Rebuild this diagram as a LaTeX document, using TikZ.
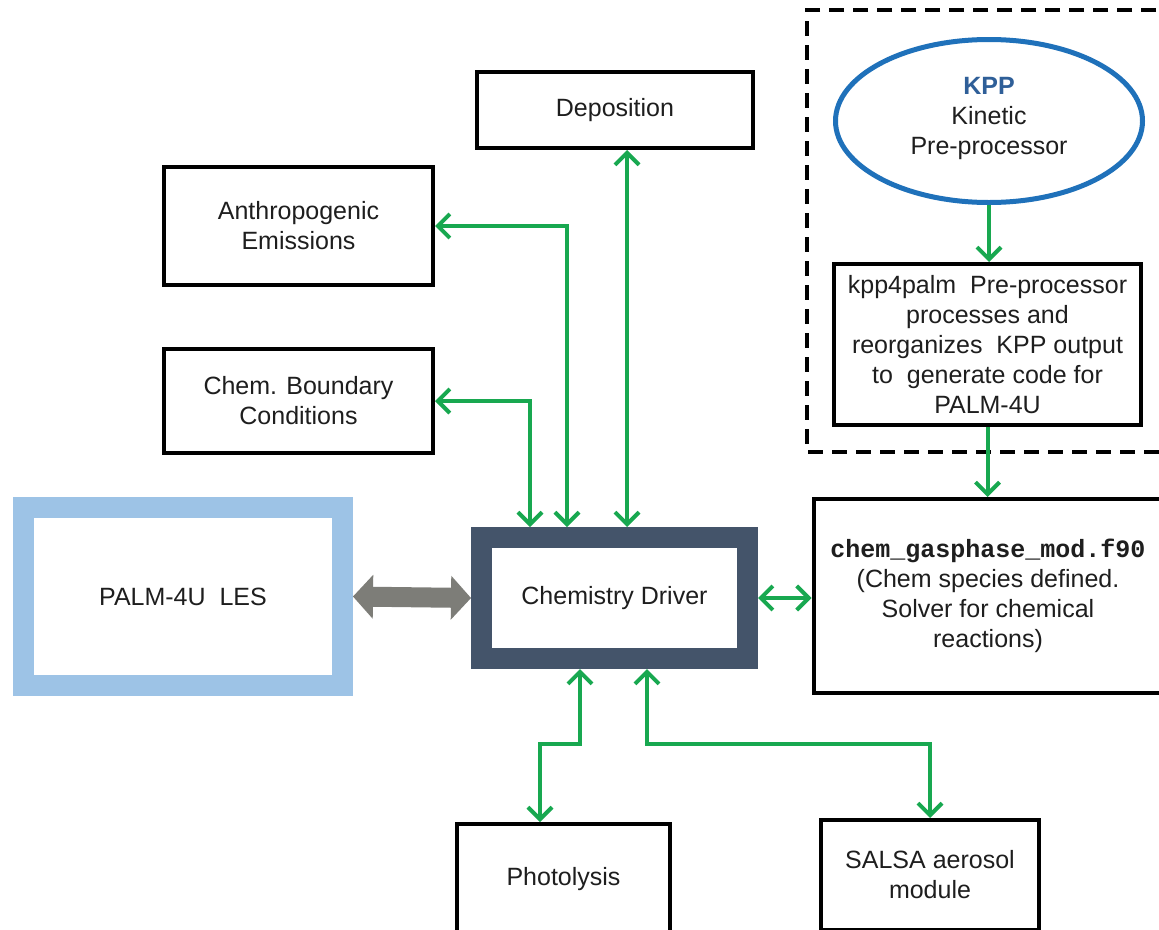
\documentclass[tikz,border=0pt]{standalone}
\usepackage{fontspec}
\setmainfont{Liberation Sans}
\setmonofont{Liberation Mono}
\usetikzlibrary{arrows.meta,shapes.geometric}
\definecolor{gr}{RGB}{24,168,80}
\definecolor{kblue}{RGB}{31,113,186}
\definecolor{kppc}{RGB}{47,95,152}
\definecolor{cdc}{RGB}{68,84,106}
\definecolor{palmc}{RGB}{157,195,230}
\definecolor{greyc}{RGB}{125,125,120}
\definecolor{txtc}{RGB}{30,30,30}
\newcommand{\txtfont}{\fontsize{25}{30}\selectfont}
\tikzset{
  gtip/.tip={Straight Barb[length=12pt,width=24pt]},
  box/.style={draw=black, line width=4pt, fill=white, align=center, inner sep=0pt, font=\txtfont, text=txtc},
  frame/.style={line width=21pt, fill=white, align=center, inner sep=0pt, font=\txtfont, text=txtc},
  gline/.style={draw=gr, line width=4pt, gtip-gtip},
  gone/.style={draw=gr, line width=4pt, -gtip},
  greyarrow/.style={draw=greyc, line width=20pt,
     {Triangle[length=20pt,width=44pt,line width=0pt]}-{Triangle[length=20pt,width=44pt,line width=0pt]}},
}
\begin{document}
\begin{tikzpicture}[x=1pt,y=-1pt]
\clip (0,0) rectangle (1159,929);
\fill[white] (0,0) rectangle (1159,929);

% dashed KPP region
\draw[black, line width=4pt, dash pattern=on 15pt off 9pt] (1180,10) -- (807,10) -- (807,452) -- (1180,452);

% nodes
\node[box, minimum width=276pt, minimum height=76pt] (dep) at (615,110) {Deposition};
\node[box, minimum width=269pt, minimum height=118pt] (anth) at (298.5,226) {Anthropogenic\\Emissions};
\node[box, minimum width=269pt, minimum height=104pt] (cbc) at (298.5,401) {Chem. Boundary\\Conditions};
\node[frame, draw=palmc, minimum width=319pt, minimum height=178pt] (palm) at (183,596.5) {PALM-4U\ \ LES};
\node[frame, draw=cdc, minimum width=266pt, minimum height=121pt] (cd) at (614.5,598) {Chemistry Driver};
\node[box, minimum width=349pt, minimum height=194pt] (gas) at (988,596)
  {{\fontsize{25}{30}\selectfont\ttfamily\bfseries chem\_gasphase\_mod.f90}\\(Chem species defined.\\Solver for chemical\\reactions)};
\node[ellipse, draw=kblue, line width=5pt, fill=white, minimum width=307pt, minimum height=163pt, inner sep=0pt,
  label={[font=\txtfont, text=txtc, align=center, yshift=3pt]center:{\textbf{\color{kppc}KPP}\\Kinetic\\Pre-processor}}] (kpp) at (989,121) {};
\node[box, minimum width=307pt, minimum height=161pt] (k4) at (987.5,344.5)
  {kpp4palm\ \ Pre-processor\\processes and\\reorganizes\ \ KPP output\\to\ \ generate code for\\PALM-4U};
\node[box, minimum width=213pt, minimum height=110pt] (photo) at (563.5,879) {Photolysis};
\node[box, minimum width=218pt, minimum height=110pt] (salsa) at (930,875) {SALSA aerosol\\module};

% connectors
\draw[greyarrow] (palm.east) -- (cd.west);
\draw[gline] (cbc.east) -| (530,0 |- cd.north);
\draw[gline] (anth.east) -| (567,0 |- cd.north);
\draw[gline] (627,0 |- dep.south) -- (627,0 |- cd.north);
\draw[gline] (cd.east) -- (gas.west |- cd.east);
\draw[gline] (580,0 |- cd.south) -- (580,744) -| (540,0 |- photo.north);
\draw[gline] (647,0 |- cd.south) |- (930,744) -- (salsa.north);
\draw[gone] (kpp.south) -- (kpp.south |- k4.north);
\draw[gone] (k4.south) -- (k4.south |- gas.north);
\end{tikzpicture}
\end{document}
